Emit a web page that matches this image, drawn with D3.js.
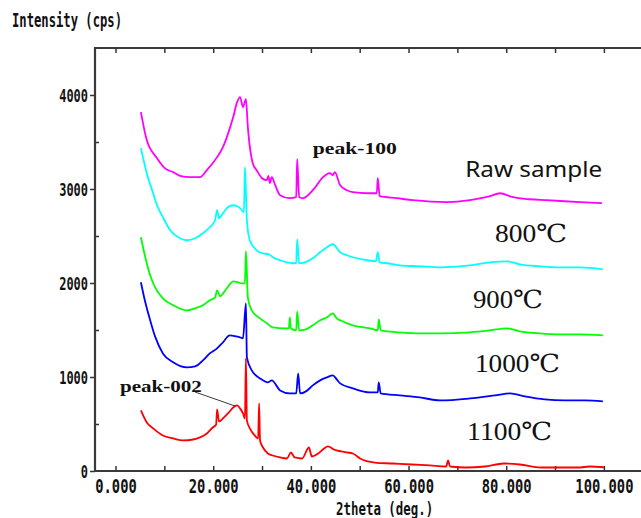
<!DOCTYPE html>
<html>
<head>
<meta charset="utf-8">
<script src="https://cdnjs.cloudflare.com/ajax/libs/d3/7.8.5/d3.min.js"></script>
<style>
body { margin:0; background:#fff; }
.mono { font-family:"DejaVu Sans Mono", "Liberation Mono", monospace; font-weight:bold; fill:#111; }
.serif { font-family:"Liberation Serif", "DejaVu Serif", serif; fill:#111; }
</style>
</head>
<body>
<div id="svg_container"></div>
<script>

/* -----------------------
data (2theta deg, cps)
------------------------- */

var raw = [[5.2,3818],[6.4,3520],[8.5,3328],[10.1,3222],[11.8,3179],[13.4,3136],[15.3,3126],[17.3,3126],[18.7,3200],[20.8,3339],[22.0,3445],[22.8,3552],[24.1,3765],[24.9,3924],[25.5,3978],[26.1,3871],[26.7,3957],[27.1,3658],[28.1,3275],[28.9,3200],[30.0,3115],[31.0,3094],[31.3,3140],[31.6,3062],[32.0,3126],[32.7,3040],[33.7,2934],[35.7,2902],[37.0,2913],[37.2,3318],[37.6,2913],[38.4,2902],[40.4,2987],[42.5,3126],[43.9,3168],[44.5,3147],[44.9,3179],[46.0,3040],[47.4,2987],[48.6,2966],[51.5,2955],[53.5,2955],[53.7,3115],[54.1,2923],[57.6,2902],[60.9,2881],[67.9,2860],[72.6,2881],[76.7,2923],[78.7,2955],[81.4,2913],[84.8,2891],[88.3,2881],[95.1,2860],[99.6,2849]];

var t800 = [[5.2,3435],[6.4,3168],[7.7,2955],[8.5,2827],[9.7,2700],[11.2,2561],[13.2,2476],[14.6,2455],[16.3,2476],[17.9,2529],[19.3,2593],[20.4,2668],[20.8,2774],[21.2,2689],[22.0,2742],[23.0,2806],[24.1,2827],[24.9,2817],[25.5,2796],[26.3,2753],[26.5,3232],[26.9,2668],[27.5,2455],[28.9,2348],[30.2,2316],[31.4,2306],[32.2,2274],[33.7,2242],[35.1,2220],[37.0,2210],[37.2,2465],[37.6,2210],[38.8,2220],[40.4,2263],[41.9,2327],[43.3,2380],[44.5,2412],[46.0,2327],[47.4,2295],[48.6,2274],[51.5,2242],[53.3,2231],[53.7,2327],[54.1,2220],[55.6,2210],[58.2,2188],[62.3,2178],[66.4,2167],[72.6,2188],[76.7,2220],[80.1,2231],[82.8,2199],[86.9,2178],[91.0,2167],[95.1,2167],[99.8,2146]];

var t900 = [[5.2,2487],[6.0,2295],[7.1,2082],[8.1,1954],[9.7,1837],[11.8,1763],[14.6,1709],[16.3,1731],[17.9,1763],[19.3,1816],[20.4,1848],[20.8,1922],[21.4,1859],[22.8,1944],[24.1,2018],[25.1,2007],[25.9,1997],[26.5,1997],[26.7,2338],[27.1,1848],[27.9,1709],[29.6,1624],[31.0,1571],[32.2,1528],[34.7,1518],[35.5,1518],[35.7,1635],[35.9,1518],[37.0,1496],[37.2,1699],[37.6,1496],[39.0,1507],[40.4,1550],[41.9,1603],[43.3,1635],[44.5,1677],[45.3,1624],[46.0,1603],[48.6,1550],[52.1,1518],[53.7,1496],[53.9,1613],[54.3,1496],[58.2,1475],[62.3,1464],[66.4,1464],[72.6,1475],[76.7,1496],[80.1,1518],[82.8,1486],[86.9,1464],[91.0,1454],[95.1,1454],[99.8,1443]];

var t1000 = [[5.2,2008],[6.0,1816],[7.1,1603],[8.1,1432],[9.7,1251],[11.8,1156],[14.6,1102],[16.3,1113],[17.9,1177],[19.3,1251],[20.8,1305],[22.0,1369],[23.4,1443],[24.7,1432],[25.5,1422],[26.1,1411],[26.7,1784],[26.9,1209],[27.9,1070],[29.6,985],[31.2,943],[32.0,964],[33.7,857],[35.7,825],[37.0,825],[37.4,1038],[37.8,825],[39.0,847],[40.4,911],[41.9,964],[43.3,996],[44.5,1017],[45.3,975],[46.0,932],[48.6,879],[52.1,836],[53.7,836],[53.9,943],[54.3,825],[58.2,804],[62.3,783],[66.4,751],[72.6,772],[77.7,804],[80.8,825],[83.8,793],[87.9,761],[92.0,751],[96.1,751],[99.8,740]];

var t1100 = [[5.2,644],[6.4,517],[7.7,453],[9.7,378],[11.8,346],[13.8,325],[15.9,335],[17.3,357],[18.7,399],[19.9,463],[20.6,495],[20.8,655],[21.2,527],[22.2,570],[23.2,623],[24.1,676],[24.9,698],[25.5,666],[26.1,612],[26.5,559],[26.7,1198],[26.9,538],[27.5,453],[28.5,378],[29.2,346],[29.4,719],[29.6,325],[30.2,250],[31.2,186],[32.2,165],[33.7,144],[35.1,133],[35.9,197],[36.7,144],[38.2,133],[39.6,250],[40.2,154],[41.5,186],[42.7,240],[43.5,261],[44.7,229],[46.2,208],[47.4,197],[48.6,186],[50.1,133],[53.1,90],[56.8,80],[60.7,69],[64.4,59],[67.7,48],[68.1,112],[68.5,48],[71.9,37],[75.6,48],[79.5,80],[82.8,69],[87.1,37],[91.0,37],[94.7,37],[97.1,48],[100,40]];

var series = [raw, t800, t900, t1000, t1100];
var colors = ['#ff00ff', '#00ffff', '#00ff00', '#0000ff', '#ff0000'];
var names = ['Raw sample', '800℃', '900℃', '1000℃', '1100℃'];

var x_ticks = [0, 20, 40, 60, 80, 100];
var y_ticks = [0, 1000, 2000, 3000, 4000];

/* -----------------------
main variables
------------------------- */

var width = 641;
var height = 518;

var svg = d3.select("#svg_container")
	.append("svg")
	.attr("width", width)
	.attr("height", height)

var x = d3.scaleLinear().domain([-4.2, 107.6]).range([95, 641]);
var y = d3.scaleLinear().domain([0, 4500]).range([471, 48]);

/* -----------------------
axes
------------------------- */

// minor ticks, every 10 deg / 500 cps
var x_minor = d3.range(0, 110, 10);
var y_minor = d3.range(500, 4500, 1000);

svg.append('g')
	.attr('transform', 'translate(0,' + y(0) + ')')
	.call(d3.axisBottom(x).tickValues(x_minor).tickSize(-5).tickFormat(''))
	.call(function (g) { g.select('.domain').remove() })

svg.append('g')
	.attr('transform', 'translate(0,' + y(4500) + ')')
	.call(d3.axisTop(x).tickValues(x_minor).tickSize(-5).tickFormat(''))
	.call(function (g) { g.select('.domain').remove() })

svg.append('g')
	.attr('transform', 'translate(' + x(-4.2) + ',0)')
	.call(d3.axisLeft(y).tickValues(y_minor).tickSize(-4).tickFormat(''))
	.call(function (g) { g.select('.domain').remove() })

var xaxis = svg.append('g')
	.attr('transform', 'translate(0,' + y(0) + ')')
	.call(d3.axisBottom(x).tickValues(x_ticks).tickSize(0).tickFormat(d3.format('.3f')))

xaxis.select('.domain').remove()
xaxis.selectAll('text')
	.attr('class', 'mono')
	.style('font-size', '15px')
	.attr('y', 0)
	.attr('dy', 0)
	.attr('transform', 'translate(0,22) scale(1,1.28)')
	.attr('textLength', function (d) { return d3.format('.3f')(d).length * 8.3 })
	.attr('lengthAdjust', 'spacingAndGlyphs')

var yaxis = svg.append('g')
	.attr('transform', 'translate(' + x(-4.2) + ',0)')
	.call(d3.axisLeft(y).tickValues(y_ticks).tickSize(5).tickPadding(2).tickFormat(d3.format('d')))

yaxis.select('.domain').remove()
yaxis.selectAll('text')
	.attr('class', 'mono')
	.style('font-size', '14px')
	.attr('dy', 0)
	.attr('transform', 'translate(0,6) scale(1,1.25)')
	.attr('textLength', function (d) { return String(d).length * 7.2 })
	.attr('lengthAdjust', 'spacingAndGlyphs')

svg.selectAll('.tick line').attr('stroke', '#333').attr('stroke-width', 1.5)

// frame lines
svg.append('path')
	.attr('d', 'M' + x(107.6) + ',' + y(4500) + 'H' + x(-4.2) + 'V' + y(0) + 'H' + x(107.6))
	.attr('fill', 'none')
	.attr('stroke', '#3a3a3a')
	.attr('stroke-width', 2.2)

/* -----------------------
curves
------------------------- */

var line = d3.line()
	.curve(d3.curveMonotoneX)
	.x(function (d) { return x(d[0]) })
	.y(function (d) { return y(d[1]) })

svg.selectAll('.curve')
	.data(series)
	.enter()
	.append('path')
	.attr('class', 'curve')
	.attr('d', line)
	.attr('fill', 'none')
	.attr('stroke', function (d, i) { return colors[i] })
	.attr('stroke-width', 1.8)
	.attr('stroke-linejoin', 'round')

/* -----------------------
labels
------------------------- */

svg.append('text')
	.attr('class', 'mono')
	.attr('transform', 'translate(12,27) scale(1,1.3)')
	.style('font-size', '15px')
	.attr('textLength', 110)
	.attr('lengthAdjust', 'spacingAndGlyphs')
	.text('Intensity (cps)')

svg.append('text')
	.attr('class', 'mono')
	.attr('transform', 'translate(' + x(55.1) + ',515) scale(1,1.2)')
	.attr('text-anchor', 'middle')
	.style('font-size', '14px')
	.attr('textLength', 97)
	.attr('lengthAdjust', 'spacingAndGlyphs')
	.text('2theta (deg.)')

// sample names, placed in data units
var label_pos = [[71.6, 3128], [77.7, 2436], [73.2, 1734], [73.6, 1053], [72.0, 330]];
var label_w = [137, 72, 70, 85, 85];

svg.selectAll('.name')
	.data(names)
	.enter()
	.append('text')
	.attr('class', function (d, i) { return i == 0 ? 'name' : 'name serif' })
	.attr('x', function (d, i) { return x(label_pos[i][0]) })
	.attr('y', function (d, i) { return y(label_pos[i][1]) })
	.style('font-family', function (d, i) { return i == 0 ? '"Noto Sans", "Open Sans", sans-serif' : null })
	.style('font-size', function (d, i) { return i == 0 ? '21px' : '25px' })
	.attr('fill', '#111')
	.attr('textLength', function (d, i) { return label_w[i] })
	.attr('lengthAdjust', 'spacingAndGlyphs')
	.text(function (d) { return d })

// peak notes
svg.append('text')
	.attr('class', 'serif')
	.attr('x', x(40.4))
	.attr('y', y(3372))
	.style('font-size', '17px')
	.style('font-weight', 'bold')
	.attr('textLength', 84)
	.attr('lengthAdjust', 'spacingAndGlyphs')
	.text('peak-100')

svg.append('text')
	.attr('class', 'serif')
	.attr('x', x(0.9))
	.attr('y', y(840))
	.style('font-size', '17px')
	.style('font-weight', 'bold')
	.attr('textLength', 82)
	.attr('lengthAdjust', 'spacingAndGlyphs')
	.text('peak-002')

svg.append('line')
	.attr('x1', x(16.3))
	.attr('y1', y(840))
	.attr('x2', x(24.5))
	.attr('y2', y(691))
	.attr('stroke', '#222')
	.attr('stroke-width', 0.9)

</script>
</body>
</html>
